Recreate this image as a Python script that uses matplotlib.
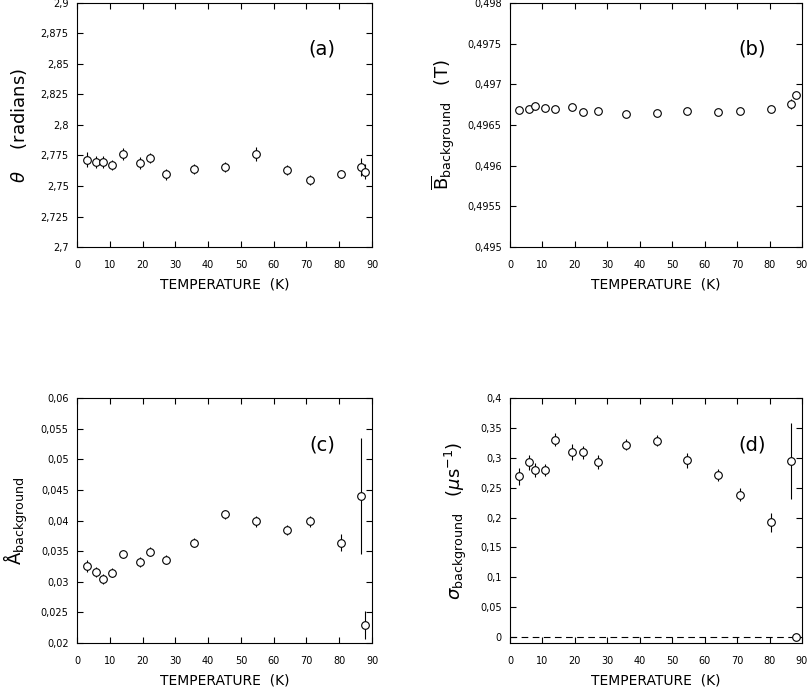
import numpy as np
import matplotlib
matplotlib.use("Agg")
import matplotlib.pyplot as plt
from matplotlib.ticker import FuncFormatter, MultipleLocator

# temperatures (K), shared by all panels
temp = [2.9, 5.8, 7.8, 10.8, 14.0, 19.2, 22.4, 27.2, 35.8, 45.2, 54.6, 64.2, 71.0, 80.5, 86.5, 88.0]

# (a) theta (radians)
theta = [2.7716, 2.7694, 2.7700, 2.7670, 2.7760, 2.7690, 2.7727, 2.7598, 2.7637, 2.7658,
         2.7762, 2.7631, 2.7550, 2.7598, 2.7656, 2.7617]
theta_err = [0.006, 0.005, 0.005, 0.004, 0.0048, 0.005, 0.004, 0.0045, 0.004, 0.004,
             0.0057, 0.004, 0.004, 0.003, 0.0077, 0.006]

# (b) mean background field (T)
bfield = [0.49668, 0.49670, 0.49673, 0.49671, 0.49670, 0.49672, 0.49666, 0.49667, 0.49664, 0.49665,
          0.49667, 0.49666, 0.49667, 0.49670, 0.49676, 0.49687]
bfield_err = [0.00002] * 14 + [0.00006, 0.00003]

# (c) background asymmetry
asym = [0.0326, 0.0316, 0.0304, 0.0315, 0.0345, 0.0332, 0.0349, 0.0336, 0.0364, 0.0410,
        0.0399, 0.0385, 0.0399, 0.0364, 0.0440, 0.0230]
asym_err = [0.0010, 0.0008, 0.0008, 0.0007, 0.0007, 0.0008, 0.0007, 0.0007, 0.0007, 0.0007,
            0.0009, 0.0008, 0.0009, 0.0014, 0.0094, 0.0023]

# (d) background relaxation (us^-1)
sigma = [0.2689, 0.2923, 0.2800, 0.2800, 0.3303, 0.3096, 0.3090, 0.2928, 0.3219, 0.3286,
         0.2957, 0.2717, 0.2382, 0.1919, 0.2946, 0.0]
sigma_err = [0.014, 0.012, 0.012, 0.010, 0.011, 0.013, 0.011, 0.011, 0.009, 0.009,
             0.013, 0.010, 0.011, 0.016, 0.063, 0.0]

plt.rcParams['font.family'] = 'DejaVu Sans'
plt.rcParams['mathtext.fontset'] = 'dejavusans'

fig = plt.figure(figsize=(8.11, 6.91), dpi=100)

W, H = 811, 691
def box(x0, y0, x1, y1):
    return [x0 / W, (H - y1) / H, (x1 - x0) / W, (y1 - y0) / H]

comma = FuncFormatter(lambda v, p: ('%g' % round(v, 6)).replace('.', ','))

panels = [
    (box(77, 3, 372, 247), theta, theta_err, (2.7, 2.9), 0.025,
     r'$\theta$    (radians)', '(a)'),
    (box(510, 3, 802, 247), bfield, bfield_err, (0.495, 0.498), 0.0005,
     r'$\overline{\mathrm{B}}_{\mathrm{background}}$   (T)', '(b)'),
    (box(77, 398, 372, 643), asym, asym_err, (0.02, 0.06), 0.005,
     r'$\mathrm{\AA}_{\mathrm{background}}$', '(c)'),
    (box(510, 398, 802, 643), sigma, sigma_err, (-0.01, 0.4), 0.05,
     r'$\sigma_{\mathrm{background}}$   $(\mu\mathrm{s}^{-1})$', '(d)'),
]

for rect, y, yerr, ylim, step, ylab, tag in panels:
    ax = fig.add_axes(rect)
    ax.errorbar(temp, y, yerr=yerr, fmt='o', mfc='white', mec='black', ecolor='black',
                ms=5.5, mew=0.8, elinewidth=0.8, capsize=0)
    ax.set_xlim(0, 90)
    ax.set_ylim(*ylim)
    ax.xaxis.set_major_locator(MultipleLocator(10))
    ax.yaxis.set_major_locator(MultipleLocator(step))
    ax.yaxis.set_major_formatter(comma)
    ax.tick_params(direction='in', top=True, right=True, length=4, width=0.8,
                   labelsize=7)
    ax.tick_params(axis='x', pad=9)
    ax.tick_params(axis='y', pad=6)
    for s in ax.spines.values():
        s.set_linewidth(0.8)
    ax.set_xlabel('TEMPERATURE  (K)', fontsize=10, labelpad=6)
    ax.set_ylabel(ylab, fontsize=13, labelpad=8)
    ax.text(0.83, 0.81, tag, transform=ax.transAxes, fontsize=14, ha='center', va='center')
    if tag == '(d)':
        ax.axhline(0, color='black', lw=0.8, ls=(0, (6, 4)))

fig.savefig('out.png', dpi=100)
